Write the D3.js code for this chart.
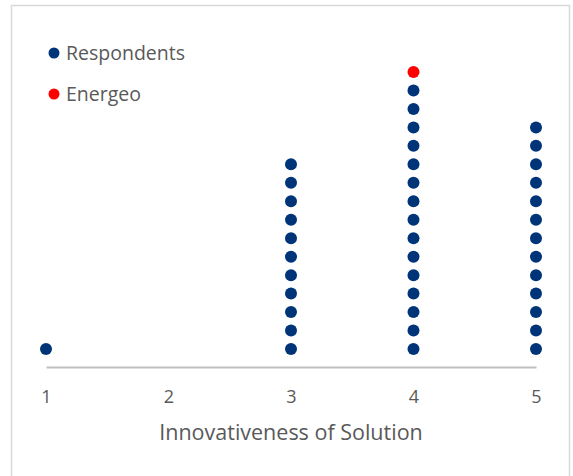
<!DOCTYPE html>
<html>
<head>
<meta charset="utf-8">
<script src="https://cdn.jsdelivr.net/npm/d3@7"></script>
<style>
  body { margin: 0; background: #fff; }
  text { font-family: "Open Sans", sans-serif; fill: #595959; }
</style>
</head>
<body>
<div id="chart"></div>
<script>
// Scores on the x axis and how many respondents gave each score
var scores = [1, 2, 3, 4, 5];
var respondentCounts = [1, 0, 11, 15, 13];
// Energeo's own score, stacked on top of that column
var energeoScore = [4];
var tickLabels = ["1", "2", "3", "4", "5"];

var svgWidth = 573;
var svgHeight = 476;

var svg = d3.select("#chart")
  .append("svg")
  .attr("width", svgWidth)
  .attr("height", svgHeight);

// light frame around the chart
svg.append("rect")
  .attr("x", 11.5)
  .attr("y", 5.5)
  .attr("width", 558)
  .attr("height", 480)
  .attr("fill", "none")
  .attr("stroke", "#d9d9d9")
  .attr("stroke-width", 1.5);

// Build one point per dot: respondents stacked from the bottom
var dots = [];
scores.forEach(function(s, i) {
  for (var k = 0; k < respondentCounts[i]; k++) {
    dots.push({ score: s, level: k, series: "Respondents" });
  }
});
energeoScore.forEach(function(s) {
  var idx = scores.indexOf(s);
  dots.push({ score: s, level: respondentCounts[idx], series: "Energeo" });
});

var xScale = d3.scaleLinear()
  .domain([1, 5])
  .range([46, 536]);

var yScale = d3.scaleLinear()
  .domain([0, 15])
  .range([349, 72]);

var color = { Respondents: "#003479", Energeo: "#ff0000" };

// x axis
var bottomAxis = d3.axisBottom(xScale)
  .tickValues(scores)
  .tickFormat(function(d, i) { return tickLabels[i]; })
  .tickSize(0)
  .tickSizeOuter(0)
  .tickPadding(23);

var axisG = svg.append("g")
  .attr("transform", "translate(0, 367)")
  .call(bottomAxis);

axisG.select(".domain")
  .attr("stroke", "#bfbfbf")
  .attr("stroke-width", 2);

axisG.selectAll(".tick text")
  .style("font-family", "'Open Sans', sans-serif")
  .style("font-size", "18px")
  .attr("fill", "#595959");

// axis title
svg.append("text")
  .attr("x", (xScale(1) + xScale(5)) / 2)
  .attr("y", 440)
  .style("text-anchor", "middle")
  .style("font-size", "21.5px")
  .text("Innovativeness of Solution");

// dots
svg.selectAll("circle.dot")
  .data(dots)
  .enter()
  .append("circle")
  .attr("class", "dot")
  .attr("cx", d => xScale(d.score))
  .attr("cy", d => yScale(d.level))
  .attr("r", 6)
  .attr("fill", d => color[d.series]);

// legend
var legendItems = ["Respondents", "Energeo"];
var legend = svg.selectAll("g.legend")
  .data(legendItems)
  .enter()
  .append("g")
  .attr("class", "legend")
  .attr("transform", (d, i) => `translate(54, ${53 + i * 41})`);

legend.append("circle")
  .attr("r", 5.5)
  .attr("fill", d => color[d]);

legend.append("text")
  .attr("x", 12)
  .attr("y", 7)
  .style("font-size", "19.5px")
  .text(d => d);
</script>
</body>
</html>
